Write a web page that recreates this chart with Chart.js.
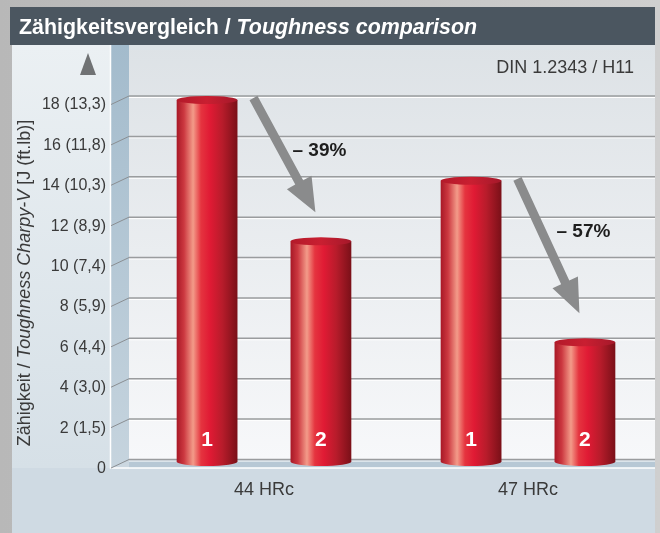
<!DOCTYPE html>
<html>
<head>
<meta charset="utf-8">
<script src="https://cdn.jsdelivr.net/npm/chart.js@4.4.1/dist/chart.umd.min.js"></script>
<style>
  html, body { margin: 0; padding: 0; background: #c4c4c4; overflow: hidden; }
  canvas { display: block; }
</style>
</head>
<body>
<canvas id="chart" width="660" height="533"></canvas>
<script>
// data
const categories = ['44 HRc', '47 HRc'];
const seriesNames = ['1', '2'];
const series1 = [18, 14];
const series2 = [11, 6];
const yTickLabels = ['0', '2 (1,5)', '4 (3,0)', '6 (4,4)', '8 (5,9)', '10 (7,4)', '12 (8,9)', '14 (10,3)', '16 (11,8)', '18 (13,3)'];

const titleMain = 'Zähigkeitsvergleich / ';
const titleItalic = 'Toughness comparison';
const steelLabel = 'DIN 1.2343 / H11';
const yTitleParts = [['Zähigkeit / ', false], ['Toughness Charpy-V', true], [' [J (ft.lb)]', false]];

const FONT = "'Liberation Sans', Arial, Helvetica, sans-serif";
const TEXT = '#3a3a3a';

// background, walls, grid, titles
const backdrop = {
  id: 'backdrop',
  beforeDraw(chart) {
    const { ctx, chartArea: a } = chart;
    const ys = chart.scales.y;
    const W = chart.width, H = chart.height;
    const wallL = a.left - 3, wallR = 655, wallTop = 45;
    const sideL = a.left - 21;
    const floorY = ys.getPixelForValue(0);
    const floorB = floorY + 8.5;

    ctx.save();
    let g = ctx.createLinearGradient(0, 0, W, 0);
    g.addColorStop(0, '#b8b8b8');
    g.addColorStop(1, '#cfcfcf');
    ctx.fillStyle = g;
    ctx.fillRect(0, 0, W, H);

    // title bar
    ctx.fillStyle = '#4b5660';
    ctx.fillRect(10, 7, wallR - 10, wallTop - 7);
    ctx.fillStyle = '#ffffff';
    ctx.textBaseline = 'alphabetic';
    ctx.textAlign = 'left';
    ctx.font = 'bold 21.4px ' + FONT;
    ctx.fillText(titleMain, 19, 34);
    const tw = ctx.measureText(titleMain).width;
    ctx.font = 'italic bold 21.4px ' + FONT;
    ctx.fillText(titleItalic, 19 + tw, 34);

    // left panel
    g = ctx.createLinearGradient(0, wallTop, 0, floorB);
    g.addColorStop(0, '#ebf0f3');
    g.addColorStop(1, '#d6e0e7');
    ctx.fillStyle = g;
    ctx.fillRect(12, wallTop, sideL - 12, floorB - wallTop);

    // floor
    ctx.fillStyle = '#cfdae3';
    ctx.fillRect(12, floorB, wallR - 12, H - floorB);

    // side wall
    g = ctx.createLinearGradient(0, wallTop, 0, floorB);
    g.addColorStop(0, '#a3bbcc');
    g.addColorStop(1, '#c6d4de');
    ctx.fillStyle = g;
    ctx.fillRect(sideL, wallTop, wallL - sideL, floorB - wallTop);
    ctx.fillStyle = '#cbd7e0';
    ctx.beginPath();
    ctx.moveTo(sideL, floorY + 8.5);
    ctx.lineTo(wallL, floorY);
    ctx.lineTo(wallL, floorB);
    ctx.lineTo(sideL, floorB);
    ctx.closePath();
    ctx.fill();

    // back wall
    g = ctx.createLinearGradient(0, wallTop, 0, floorY);
    g.addColorStop(0, '#dde2e6');
    g.addColorStop(1, '#f7f8fa');
    ctx.fillStyle = g;
    ctx.fillRect(wallL, wallTop, wallR - wallL, floorY - wallTop);
    ctx.fillStyle = '#b7c8d5';
    ctx.fillRect(wallL, floorY, wallR - wallL, floorB - floorY);

    // white edges
    ctx.strokeStyle = '#ffffff';
    ctx.lineWidth = 1.5;
    ctx.beginPath();
    ctx.moveTo(sideL - 0.5, wallTop);
    ctx.lineTo(sideL - 0.5, floorB);
    ctx.lineTo(wallR, floorB);
    ctx.stroke();

    // grid lines and slanted connectors
    ys.ticks.forEach(t => {
      const y = ys.getPixelForValue(t.value);
      ctx.strokeStyle = '#ffffff';
      ctx.lineWidth = 1;
      ctx.beginPath();
      ctx.moveTo(wallL, y + 1.5);
      ctx.lineTo(wallR, y + 1.5);
      ctx.stroke();
      ctx.strokeStyle = '#9a9c9e';
      ctx.lineWidth = 1.5;
      ctx.beginPath();
      ctx.moveTo(wallL, y);
      ctx.lineTo(wallR, y);
      ctx.stroke();
      ctx.strokeStyle = '#8a8e92';
      ctx.lineWidth = 1;
      ctx.beginPath();
      ctx.moveTo(sideL, y + 8.5);
      ctx.lineTo(wallL, y);
      ctx.stroke();
    });

    // axis arrow head
    ctx.fillStyle = '#707274';
    ctx.beginPath();
    ctx.moveTo(sideL - 23, 53);
    ctx.lineTo(sideL - 31, 75);
    ctx.lineTo(sideL - 15, 75);
    ctx.closePath();
    ctx.fill();

    // steel grade
    ctx.fillStyle = TEXT;
    ctx.font = '18px ' + FONT;
    ctx.textAlign = 'right';
    ctx.fillText(steelLabel, wallR - 21, 73);

    // rotated y title with italic middle part
    ctx.translate(25, 283);
    ctx.rotate(-Math.PI / 2);
    ctx.textAlign = 'left';
    ctx.textBaseline = 'middle';
    let total = 0;
    const widths = yTitleParts.map(([s, it]) => {
      ctx.font = (it ? 'italic ' : '') + '18px ' + FONT;
      const w = ctx.measureText(s).width;
      total += w;
      return w;
    });
    let x = -total / 2;
    yTitleParts.forEach(([s, it], i) => {
      ctx.font = (it ? 'italic ' : '') + '18px ' + FONT;
      ctx.fillText(s, x, 0);
      x += widths[i];
    });
    ctx.restore();
  }
};

function drawArrow(ctx, x1, y1, x2, y2) {
  const sw = 9, hw = 28, hl = 34;
  const len = Math.hypot(x2 - x1, y2 - y1);
  const dx = (x2 - x1) / len, dy = (y2 - y1) / len;
  const nx = -dy, ny = dx;
  const bx = x2 - dx * hl, by = y2 - dy * hl;
  ctx.fillStyle = '#8a8b8c';
  ctx.beginPath();
  ctx.moveTo(x1 + nx * sw / 2, y1 + ny * sw / 2);
  ctx.lineTo(bx + nx * sw / 2, by + ny * sw / 2);
  ctx.lineTo(bx + nx * hw / 2, by + ny * hw / 2);
  ctx.lineTo(x2, y2);
  ctx.lineTo(bx - nx * hw / 2, by - ny * hw / 2);
  ctx.lineTo(bx - nx * sw / 2, by - ny * sw / 2);
  ctx.lineTo(x1 - nx * sw / 2, y1 - ny * sw / 2);
  ctx.closePath();
  ctx.fill();
}

// cylinders, bar numbers, arrows and percentages
const cylinders = {
  id: 'cylinders',
  afterDatasetsDraw(chart) {
    const { ctx } = chart;
    ctx.save();
    chart.data.datasets.forEach((ds, i) => {
      chart.getDatasetMeta(i).data.forEach(el => {
        const { x, y, width, base } = el.getProps(['x', 'y', 'width', 'base'], true);
        const l = x - width / 2, r = x + width / 2, rx = width / 2;
        const topC = y + 4, botC = base + 2;
        const g = ctx.createLinearGradient(l, 0, r, 0);
        g.addColorStop(0, '#a81826');
        g.addColorStop(0.12, '#cc3840');
        g.addColorStop(0.27, '#f39b89');
        g.addColorStop(0.4, '#e5343f');
        g.addColorStop(0.55, '#e01a34');
        g.addColorStop(0.75, '#b81c2b');
        g.addColorStop(1, '#7a1018');
        ctx.fillStyle = g;
        ctx.beginPath();
        ctx.moveTo(l, topC);
        ctx.lineTo(l, botC);
        ctx.ellipse(x, botC, rx, 4.5, 0, Math.PI, 0, true);
        ctx.lineTo(r, topC);
        ctx.closePath();
        ctx.fill();

        const tg = ctx.createLinearGradient(l, 0, r, 0);
        tg.addColorStop(0, '#b31a2a');
        tg.addColorStop(0.5, '#c91f31');
        tg.addColorStop(1, '#a5182a');
        ctx.fillStyle = tg;
        ctx.beginPath();
        ctx.ellipse(x, topC, rx, 4, 0, 0, Math.PI * 2);
        ctx.fill();

        ctx.fillStyle = '#ffffff';
        ctx.font = 'bold 21px ' + FONT;
        ctx.textAlign = 'center';
        ctx.textBaseline = 'middle';
        ctx.fillText(ds.label, x, base - 19);
      });
    });

    const m1 = chart.getDatasetMeta(0).data, m2 = chart.getDatasetMeta(1).data;
    categories.forEach((c, j) => {
      const b1 = m1[j], b2 = m2[j];
      const sx = b1.x + b1.width / 2 + 16, sy = b1.y + 2;
      drawArrow(ctx, sx, sy, b2.x - 5.5, b2.y - 25);
      const pct = Math.round((series2[j] - series1[j]) / series1[j] * 100);
      ctx.fillStyle = '#1e1e1e';
      ctx.font = 'bold 19px ' + FONT;
      ctx.textAlign = 'left';
      ctx.textBaseline = 'middle';
      ctx.fillText('\u2013 ' + Math.abs(pct) + '%', b2.x - b2.width / 2 + 2, sy + 53);
    });
    ctx.restore();
  }
};

new Chart(document.getElementById('chart'), {
  type: 'bar',
  data: {
    labels: categories,
    datasets: [
      { label: seriesNames[0], data: series1, backgroundColor: 'rgba(0,0,0,0)' },
      { label: seriesNames[1], data: series2, backgroundColor: 'rgba(0,0,0,0)' }
    ]
  },
  options: {
    responsive: false,
    animation: false,
    categoryPercentage: 0.8625,
    barPercentage: 0.534,
    layout: { padding: { top: 96, right: -2, bottom: 0, left: 0 } },
    plugins: { legend: { display: false }, tooltip: { enabled: false }, title: { display: false } },
    scales: {
      x: {
        grid: { display: false, drawTicks: false },
        border: { display: false },
        ticks: { color: TEXT, font: { family: FONT, size: 18 }, padding: 20 },
        afterFit: s => { s.height = 73.5; }
      },
      y: {
        min: 0,
        max: 18,
        grid: { display: false, drawTicks: false },
        border: { display: false },
        ticks: {
          stepSize: 2,
          color: TEXT,
          font: { family: FONT, size: 16 },
          padding: 26,
          labelOffset: 9,
          callback: v => yTickLabels[v / 2]
        },
        afterFit: s => { s.width = 132; }
      }
    }
  },
  plugins: [backdrop, cylinders]
});
</script>
</body>
</html>
